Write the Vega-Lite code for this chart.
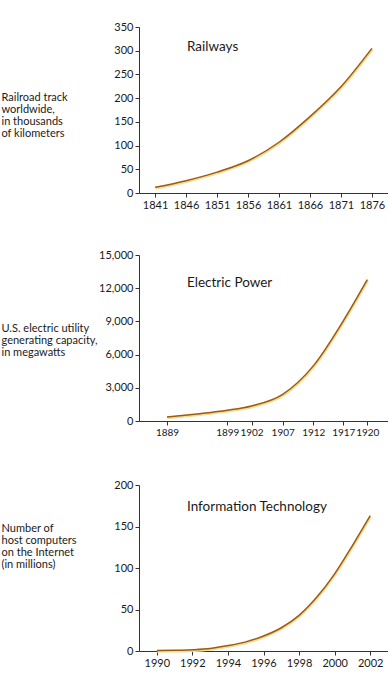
{
  "$schema": "https://vega.github.io/schema/vega-lite/v6.json",
  "padding": {"top": 21, "left": 1, "right": 0, "bottom": 0},
  "background": "white",
  "config": {
    "view": {"stroke": null},
    "font": "Lato",
    "axis": {
      "grid": false,
      "domainColor": "#333",
      "tickColor": "#333",
      "tickSize": 4,
      "labelColor": "#1a1a1a",
      "labelFont": "Lato",
      "labelFontSize": 11,
      "labelPadding": 2,
      "labelOverlap": false,
      "titleFont": "Lato",
      "titleFontSize": 11,
      "titleFontWeight": "normal",
      "titleColor": "#1a1a1a"
    },
    "title": {"font": "Lato", "fontSize": 13.5, "fontWeight": "normal", "color": "#1a1a1a", "anchor": "start", "frame": "group", "baseline": "middle", "offset": 0}
  },
  "spacing": 42,
  "vconcat": [
    {
      "spacing": 39,
      "vconcat": [
        {
          "width": 249, "height": 166,
          "title": {"text": "Railways", "dx": 48, "dy": 36},
          "data": {"values": [
            {"year": 1841, "v": 12}, {"year": 1846, "v": 26}, {"year": 1851, "v": 44},
            {"year": 1856, "v": 68}, {"year": 1861, "v": 107}, {"year": 1866, "v": 161},
            {"year": 1871, "v": 224}, {"year": 1876, "v": 305}
          ]},
          "encoding": {
            "x": {"field": "year", "type": "quantitative", "scale": {"domain": [1838.4, 1878.6], "nice": false, "zero": false},
                  "axis": {"title": null, "values": [1841, 1846, 1851, 1856, 1861, 1866, 1871, 1876], "format": "d"}},
            "y": {"field": "v", "type": "quantitative", "scale": {"domain": [0, 350], "nice": false},
                  "axis": {"values": [0, 50, 100, 150, 200, 250, 300, 350], "format": "d",
                           "title": ["Railroad track", "worldwide,", "in thousands", "of kilometers"],
                           "titleAngle": 0, "titleAlign": "left", "titleBaseline": "top", "titleX": -138, "titleY": 64, "titleLineHeight": 12}}
          },
          "layer": [
            {"mark": {"type": "line", "interpolate": "monotone", "color": "#f2dc9a", "strokeWidth": 2.5, "yOffset": 1, "xOffset": 0.5}},
            {"mark": {"type": "line", "interpolate": "monotone", "color": "#9c5b0e", "strokeWidth": 1.5}}
          ]
        },
        {
          "width": 249, "height": 166,
          "title": {"text": "Electric Power", "dx": 48, "dy": 44},
          "data": {"values": [
            {"year": 1889, "v": 360}, {"year": 1894, "v": 640}, {"year": 1899, "v": 970},
            {"year": 1902, "v": 1360}, {"year": 1907, "v": 2410}, {"year": 1912, "v": 4980},
            {"year": 1917, "v": 9050}, {"year": 1920, "v": 12770}
          ]},
          "encoding": {
            "x": {"field": "year", "type": "quantitative",
                  "scale": {"type": "linear", "domain": [1884.4, 1889, 1899, 1902, 1907, 1912, 1917, 1920, 1922.6],
                            "range": [0, 28, 88.3, 112.5, 143.7, 174.3, 204.3, 228.3, 249], "nice": false, "zero": false},
                  "axis": {"title": null, "values": [1889, 1899, 1902, 1907, 1912, 1917, 1920], "format": "d", "labelFontSize": 10}},
            "y": {"field": "v", "type": "quantitative", "scale": {"domain": [0, 15000], "nice": false},
                  "axis": {"values": [0, 3000, 6000, 9000, 12000, 15000], "format": ",d",
                           "title": ["U.S. electric utility", "generating capacity,", "in megawatts"],
                           "titleAngle": 0, "titleAlign": "left", "titleBaseline": "top", "titleX": -138, "titleY": 67, "titleLineHeight": 12}}
          },
          "layer": [
            {"mark": {"type": "line", "interpolate": "monotone", "color": "#f2dc9a", "strokeWidth": 2.5, "yOffset": 1, "xOffset": 0.5}},
            {"mark": {"type": "line", "interpolate": "monotone", "color": "#9c5b0e", "strokeWidth": 1.5}}
          ]
        }
      ]
    },
    {
      "width": 249, "height": 166,
      "title": {"text": "Information Technology", "dx": 48, "dy": 38},
      "data": {"values": [
        {"year": 1990, "v": 0.5}, {"year": 1991, "v": 0.8}, {"year": 1992, "v": 1.5},
        {"year": 1993, "v": 3}, {"year": 1994, "v": 6.5}, {"year": 1995, "v": 11},
        {"year": 1996, "v": 18}, {"year": 1997, "v": 28}, {"year": 1998, "v": 43},
        {"year": 1999, "v": 65}, {"year": 2000, "v": 93}, {"year": 2001, "v": 127},
        {"year": 2002, "v": 163}
      ]},
      "encoding": {
        "x": {"field": "year", "type": "quantitative", "scale": {"domain": [1989.0, 2003.0], "nice": false, "zero": false},
              "axis": {"title": null, "values": [1990, 1992, 1994, 1996, 1998, 2000, 2002], "format": "d"}},
        "y": {"field": "v", "type": "quantitative", "scale": {"domain": [0, 200], "nice": false},
              "axis": {"values": [0, 50, 100, 150, 200], "format": "d",
                       "title": ["Number of", "host computers", "on the Internet", "(in millions)"],
                       "titleAngle": 0, "titleAlign": "left", "titleBaseline": "top", "titleX": -138, "titleY": 37, "titleLineHeight": 12}}
      },
      "layer": [
        {"mark": {"type": "line", "interpolate": "monotone", "color": "#f2dc9a", "strokeWidth": 2.5, "yOffset": 1, "xOffset": 0.5}},
        {"mark": {"type": "line", "interpolate": "monotone", "color": "#9c5b0e", "strokeWidth": 1.5}}
      ]
    }
  ]
}
